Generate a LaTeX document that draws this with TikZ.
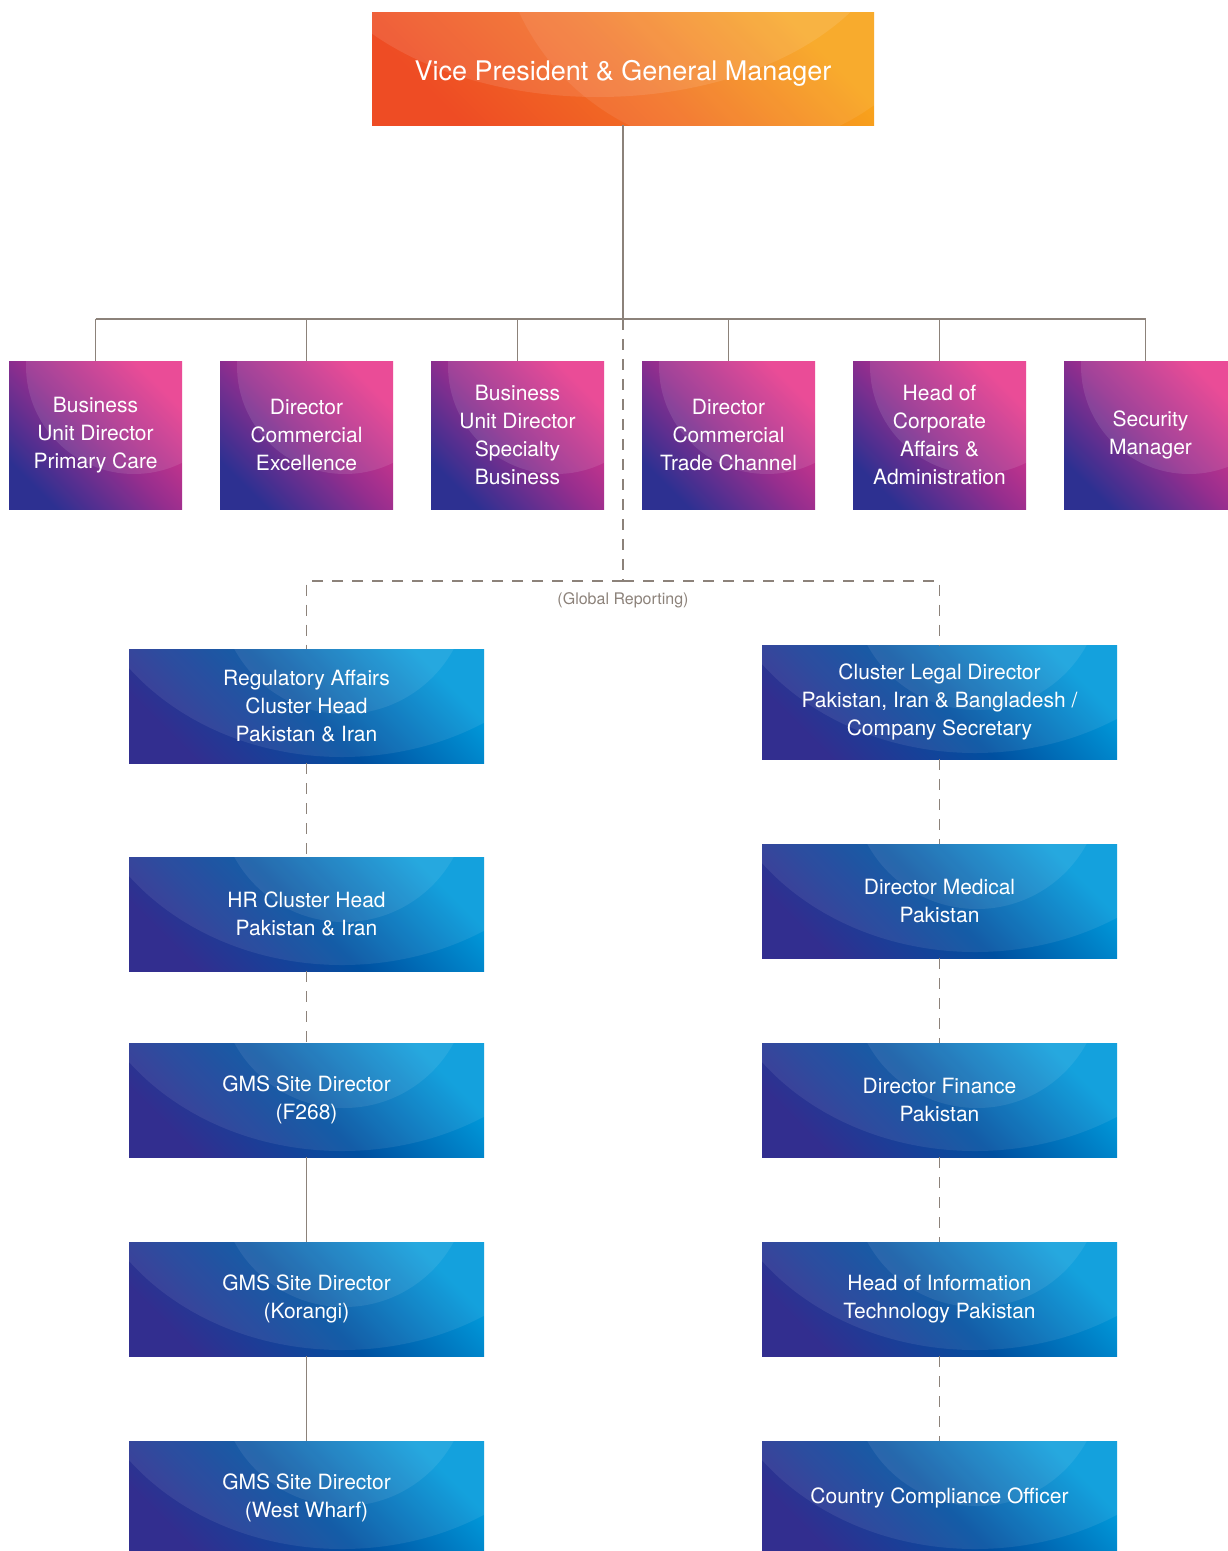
\documentclass[tikz,border=0pt]{standalone}
\usepackage{fontspec}
\setmainfont{TeX Gyre Heros}
\usetikzlibrary{%
    shapes,%
    positioning,%
    calc%
}
\definecolor{orgdark}{RGB}{238,76,36}
\definecolor{orgmid}{RGB}{242,112,36}
\definecolor{orglight}{RGB}{248,164,28}
\definecolor{purdark}{RGB}{45,48,145}
\definecolor{purmid}{RGB}{150,46,142}
\definecolor{purlight}{RGB}{232,56,140}
\definecolor{bludark}{RGB}{50,46,143}
\definecolor{blumid}{RGB}{0,80,160}
\definecolor{blulight}{RGB}{0,154,219}
\definecolor{linegray}{RGB}{140,130,122}
\tikzset{
    box/.style = {rectangle, outer sep = 0pt, inner sep = 0pt, align = center,
    text = white, font = \fontsize{21pt}{28pt}\selectfont},
    topbox/.style = {box, minimum width = 502pt, minimum height = 113pt,
    bottom color = orgdark, top color = orglight, middle color = orgmid,
    shading angle = -45, font = \fontsize{27pt}{32pt}\selectfont,
    path picture = {
        \fill[white, opacity = .1] ([xshift = 226pt, yshift = 100pt]path picture bounding box.north west) ellipse (300pt and 185pt);
        \fill[white, opacity = .08] ([xshift = 363pt, yshift = 100pt]path picture bounding box.north west) circle (238pt);
    }},
    purbox/.style = {box, minimum width = 173pt, minimum height = 148pt,
    bottom color = purdark, top color = purlight, middle color = purmid,
    shading angle = -45,
    path picture = {
        \fill[white, opacity = .1] ([xshift = 125pt, yshift = -5pt]path picture bounding box.north west) circle (108pt);
    }},
    blubox/.style = {box, minimum width = 355pt, minimum height = 114pt,
    bottom color = bludark, top color = blulight, middle color = blumid,
    shading angle = -45,
    path picture = {
        \fill[white, opacity = .08] ([xshift = 213pt, yshift = 114pt]path picture bounding box.north west) ellipse (266pt and 222pt);
        \fill[white, opacity = .08] ([xshift = 215pt, yshift = 60pt]path picture bounding box.north west) circle (125pt);
    }},
    conn/.style = {draw = linegray, line width = 1.1pt},
    dconn/.style = {conn, dash pattern = on 11pt off 9pt}
}
\begin{document}
\begin{tikzpicture}
    \useasboundingbox (0,0) rectangle (1228pt,-1551pt);
    \node (vp) [topbox, text height = 28pt, text depth = 5pt] at (623pt,-68.5pt) {Vice President \& General Manager};
    \node (bupc) [purbox] at (95.5pt,-435pt) {Business\\Unit Director\\Primary Care};
    \node[right = 38pt of bupc] (dce) [purbox] {Director\\Commercial\\Excellence};
    \node[right = 38pt of dce] (buds) [purbox] {Business\\Unit Director\\Specialty\\Business};
    \node[right = 38pt of buds] (dctc) [purbox] {Director\\Commercial\\Trade Channel};
    \node[right = 38pt of dctc] (hca) [purbox] {Head of\\Corporate\\Affairs \&\\Administration};
    \node[right = 38pt of hca] (sec) [purbox] {Security\\Manager};
    \node (ra) [blubox] at (306.5pt,-706pt) {Regulatory Affairs\\Cluster Head\\Pakistan \& Iran};
    \node[below = 94pt of ra] (hr) [blubox] {HR Cluster Head\\Pakistan \& Iran};
    \node[below = 72pt of hr] (gmsf) [blubox] {GMS Site Director\\(F268)};
    \node[below = 85pt of gmsf] (gmsk) [blubox] {GMS Site Director\\(Korangi)};
    \node[below = 85pt of gmsk] (gmsw) [blubox] {GMS Site Director\\(West Wharf)};
    \node (legal) [blubox] at (939.5pt,-702pt) {Cluster Legal Director\\Pakistan, Iran \& Bangladesh /\\Company Secretary};
    \node[below = 85pt of legal] (med) [blubox] {Director Medical\\Pakistan};
    \node[below = 85pt of med] (fin) [blubox] {Director Finance\\Pakistan};
    \node[below = 85pt of fin] (it) [blubox] {Head of Information\\Technology Pakistan};
    \node[below = 85pt of it] (cco) [blubox] {Country Compliance Officer};
    \coordinate (bar) at ($(vp.south)+(0,-194pt)$);
    \coordinate (glob) at ($(bar)+(0,-262pt)$);
    \coordinate (secin) at ([xshift = -5pt]sec.north);
    \node[font = \fontsize{16pt}{18pt}\selectfont, text = linegray] (globlbl) at ($(glob)+(0,-19pt)$) {(Global Reporting)};
    \draw[conn] (vp.south) -- (bar);
    \draw[conn] (bar -| bupc.north) -- (bar -| secin);
    \foreach \n in {bupc, dce, buds, dctc, hca}
        \draw[conn] (bar -| \n.north) -- (\n.north);
    \draw[conn] (bar -| secin) -- (secin);
    \draw[dconn] (bar) -- (glob);
    \draw[dconn] (glob) -- (glob -| ra.north) -- (ra.north);
    \draw[dconn] (glob) -- (glob -| legal.north) -- (legal.north);
    \draw[dconn] (ra.south) -- (hr.north);
    \draw[dconn] (hr.south) -- (gmsf.north);
    \draw[conn] (gmsf.south) -- (gmsk.north);
    \draw[conn] (gmsk.south) -- (gmsw.north);
    \draw[dconn] (legal.south) -- (med.north);
    \draw[dconn] (med.south) -- (fin.north);
    \draw[dconn] (fin.south) -- (it.north);
    \draw[dconn] (it.south) -- (cco.north);
\end{tikzpicture}
\end{document}
